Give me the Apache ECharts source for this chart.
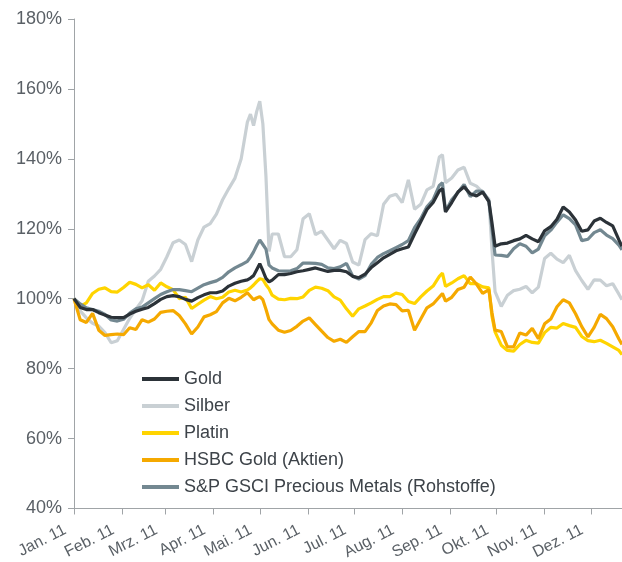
<!DOCTYPE html>
<html>
<head>
<meta charset="utf-8">
<script src="https://cdn.jsdelivr.net/npm/echarts@6/dist/echarts.min.js"></script>
<style>
html,body{margin:0;padding:0;background:#fff;}
#c{width:622px;height:562px;}
</style>
</head>
<body>
<div id="c"></div>
<script>
var dates = ['2011-01-01','2011-01-05','2011-01-09','2011-01-13','2011-01-17','2011-01-21','2011-01-25','2011-01-29',
'2011-02-02','2011-02-06','2011-02-10','2011-02-14','2011-02-18','2011-02-22','2011-02-26',
'2011-03-02','2011-03-06','2011-03-10','2011-03-14','2011-03-18','2011-03-22','2011-03-26','2011-03-30',
'2011-04-03','2011-04-07','2011-04-11','2011-04-15','2011-04-19','2011-04-23','2011-04-25','2011-04-27','2011-04-29',
'2011-05-01','2011-05-03','2011-05-05','2011-05-07','2011-05-09','2011-05-13','2011-05-17','2011-05-21','2011-05-25','2011-05-29',
'2011-06-02','2011-06-06','2011-06-10','2011-06-14','2011-06-18','2011-06-22','2011-06-26','2011-06-30',
'2011-07-04','2011-07-08','2011-07-12','2011-07-16','2011-07-20','2011-07-24','2011-07-28',
'2011-08-01','2011-08-05','2011-08-09','2011-08-13','2011-08-17','2011-08-21','2011-08-25','2011-08-27','2011-08-29',
'2011-09-02','2011-09-06','2011-09-10','2011-09-14','2011-09-18','2011-09-22','2011-09-26','2011-09-28','2011-09-30',
'2011-10-04','2011-10-08','2011-10-12','2011-10-16','2011-10-20','2011-10-24','2011-10-28',
'2011-11-01','2011-11-05','2011-11-09','2011-11-13','2011-11-17','2011-11-21','2011-11-25','2011-11-29',
'2011-12-03','2011-12-07','2011-12-11','2011-12-15','2011-12-19','2011-12-21'];

var gold = [100,97.5,96.9,96.9,96,95.3,94.7,94.6,
94.6,95.6,96.4,97,97.5,98.6,99.8,
100.6,100.9,100.6,99.8,99.3,100.3,101.1,101.7,
101.7,102.2,103.6,104.4,105,105.4,105.9,106.6,108.3,
110,108,105.8,104.8,105.3,106.9,106.9,107.2,107.7,108,
108.4,108.8,108.3,107.8,108.1,108.1,107.7,106.4,
106,107,108.9,110.3,111.7,112.7,113.7,
114.3,114.8,118.5,122,125.5,127.5,130.8,131.5,124.8,
127.5,130.5,132,130,129.4,130.5,127.8,121.7,115,
115.7,115.9,116.6,117.1,118.1,117.1,116.3,
119.4,120.6,122.7,126.2,124.8,122.5,119.3,119.7,
122.2,123,121.8,120.8,116.8,115];

var silber = [100,96.5,94.5,93,92.2,90.3,87.4,88,
91.2,94.4,97,99.4,105,106.5,108.4,
112,116,116.8,115.5,110.6,116.8,120.5,121.5,
124.2,128.3,131.5,134.5,140,150.5,152.8,149.5,153.5,
156.5,150,135,113.5,118.5,118.5,112,112,114,122.9,
124.3,118.3,119.3,116.8,114.3,116.7,115.8,110.5,
109.6,116.9,118.6,118,127,129.3,129.9,
127.5,134,125.6,127,131.1,132.1,140.5,141.2,133.2,
134.5,136.8,137.6,133,132.2,130.4,128.5,114,102,
97.8,101,102.3,102.7,103.5,101.7,103.3,
111.5,113,111.3,110.3,112.4,108,105.2,102.7,
105.4,105.3,103.7,104.3,101.3,99.7];

var platin = [100,97.8,98.8,101.5,102.7,103.1,102,101.9,
103.2,104.7,104.1,103.1,104,102.4,104.5,
103.4,102.6,100,100.4,97.2,98.4,99.6,100.6,
100,100.4,101.9,102.4,101.9,102.5,103.1,103.9,104.9,
105.7,105.5,104,102.8,101,99.9,99.7,100.1,100,100.5,
102.4,103.3,103,102.3,100.5,99.6,97.1,95,
97.1,97.9,98.8,99.8,100.6,100.6,101.6,
101.2,99.2,98.6,100.5,102.2,103.6,106.4,107.3,103.5,
104.5,105.7,106.6,104.3,104.3,103.4,103.1,95,90.5,
86.7,85.2,85,86.9,88.1,87.5,87.3,
90.3,91.8,91.6,92.9,92.3,91.8,89.2,88,
87.7,88.1,87.2,86.2,85.2,84];

var hsbc = [100,94,93.2,95.8,91,89.5,89.7,89.9,
89.7,91.7,91.2,94,93.3,94.2,96.1,
96.4,96.6,95.2,92.8,89.9,91.9,94.8,95.4,
96.3,98.8,100.1,99.4,100.4,101.7,100.7,99.7,100.2,
100.6,99.7,97,94,92.8,91,90.4,90.9,92.1,93.6,
94.5,92.6,90.7,88.9,87.8,88.4,87.5,89.1,
90.6,90.6,93.1,96.6,97.9,98.5,98.3,
96.5,96.7,91,94.2,97.4,98.5,100.5,101.5,99.3,
100.4,102.6,103.3,106.2,104.2,101.5,102.6,96,91,
90.6,86.2,86.2,90.2,89.6,91.5,88.6,
92.8,94.2,97.7,99.7,98.8,95.7,92,89.1,
91.8,95.5,94.3,92,88.5,86.9];

var spgsci = [100,98.5,97.4,96.9,96.4,95.5,93.9,93.6,
94.1,95.9,97.1,97.6,98.8,100,101.2,
102,102.6,102.6,102.3,102,103,104,104.6,
105.1,106.1,107.7,108.8,109.7,110.7,111.9,113.4,115.2,
116.8,115.5,114.2,109.6,108.8,108,107.9,108,108.6,110.2,
110.2,110.1,109.8,108.8,108.6,109.1,110.1,106.5,
105.6,106.6,109.8,111.8,112.9,113.7,114.6,
115.5,116.6,120.3,122.9,126.3,128.3,132.4,133.2,125,
128.3,130.4,132.7,129.2,130.8,130.7,128,120,112.5,
112.4,112.1,114.3,115.7,115,113.1,114.2,
118,119.6,121.9,124,122.9,121.1,116.6,117,
118.9,119.7,118.2,117.2,115.3,114];

var seriesNames = ['Gold','Silber','Platin','HSBC Gold (Aktien)','S&P GSCI Precious Metals (Rohstoffe)'];
var monthLabels = ['Jan. 11','Feb. 11','Mrz. 11','Apr. 11','Mai. 11','Jun. 11','Jul. 11','Aug. 11','Sep. 11','Okt. 11','Nov. 11','Dez. 11'];
var yTicks = {min:40, max:180, interval:20};

var colors = ['#2b3238','#c9d0d4','#ffd400','#f5a900','#738891'];
var allValues = [gold, silber, platin, hsbc, spgsci];
var zs = [6,2,3,4,5];

function pairs(vals){ return vals.map(function(v,i){ return [dates[i], v]; }); }

var chart = echarts.init(document.getElementById('c'), null, {renderer:'canvas'});
var font = '"Liberation Sans", Arial, sans-serif';
chart.setOption({
  animation:false,
  backgroundColor:'#fff',
  grid:{left:74, right:0, top:19, bottom:53, containLabel:false},
  legend:{
    orient:'vertical', left:137, top:364,
    itemWidth:37, itemHeight:4, itemGap:7, icon:'rect',
    textStyle:{fontFamily:font, fontSize:18, color:'#3d4349', lineHeight:20},
    data:seriesNames
  },
  xAxis:{
    type:'time', min:'2011-01-01', max:'2011-12-21',
    splitNumber:12, minInterval:28*86400000, maxInterval:31*86400000,
    axisLine:{lineStyle:{color:'#a0a4a7', width:1}},
    axisTick:{show:true, length:6, lineStyle:{color:'#a0a4a7'}},
    splitLine:{show:false},
    axisLabel:{
      rotate:27, fontFamily:font, fontSize:16, color:'#5a6066', margin:16,
      padding:[0,10,0,0],
      showMinLabel:true, hideOverlap:false,
      formatter:function(v){ return monthLabels[new Date(v).getMonth()]; }
    }
  },
  yAxis:{
    type:'value', min:yTicks.min, max:yTicks.max, interval:yTicks.interval,
    axisLine:{show:true, lineStyle:{color:'#a0a4a7', width:1}},
    axisTick:{show:true, length:6, lineStyle:{color:'#a0a4a7'}},
    splitLine:{show:false},
    axisLabel:{fontFamily:font, fontSize:18, color:'#5a6066', margin:12, formatter:'{value}%'}
  },
  series: seriesNames.map(function(n,i){
    return {
      name:n, type:'line', data:pairs(allValues[i]), showSymbol:false, symbol:'none',
      z: zs[i],
      lineStyle:{color:colors[i], width:3.2}, itemStyle:{color:colors[i]}
    };
  })
});
</script>
</body>
</html>
